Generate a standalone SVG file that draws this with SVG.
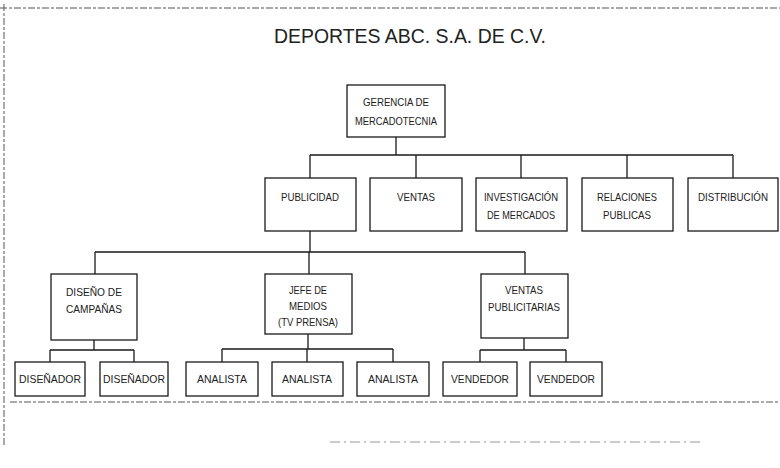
<svg xmlns="http://www.w3.org/2000/svg" width="780" height="468" viewBox="0 0 780 468">
<style>
.box{fill:#fff;stroke:#1a1a1a;stroke-width:1.3}
.t{font-family:"Liberation Sans",Arial,sans-serif;font-size:11.5px;fill:#222;text-anchor:middle}
.c{fill:none;stroke:#1a1a1a;stroke-width:1.3}
.frame{fill:none;stroke:#555;stroke-width:1;stroke-dasharray:7 2 3 2}
</style>
<rect width="780" height="468" fill="#fff"/>
<g id="frame">
<line class="frame" x1="0" y1="8" x2="780" y2="8"/>
<line class="frame" x1="4" y1="4" x2="4" y2="445" stroke="#888"/>
<line class="frame" x1="10" y1="402" x2="780" y2="402"/>
<line x1="330" y1="442" x2="700" y2="442" stroke="#999" stroke-width="1" stroke-dasharray="10 4 2 4"/>
</g>
<text id="title" x="410" y="43" font-family="'Liberation Sans',Arial,sans-serif" font-size="21" fill="#222" text-anchor="middle" textLength="272" lengthAdjust="spacingAndGlyphs">DEPORTES ABC. S.A. DE C.V.</text>
<g id="connectors">
<path class="c" d="M396 137V155M310 155H733M310 155V178M416 155V178M521 155V178M627 155V178M733 155V178"/>
<path class="c" d="M310 231V252M95 252H525M95 252V274M309 252V274M525 252V274"/>
<path class="c" d="M94 340V350M50 350H134M50 350V362M134 350V362"/>
<path class="c" d="M308 334V349M222 349H393M222 349V362M307 349V362M393 349V362"/>
<path class="c" d="M524 338V350M480 350H566M480 350V362M566 350V362"/>
</g>
<g id="gerencia"><rect class="box" x="347" y="85" width="98" height="52"/><text class="t" x="396" y="106" textLength="66" lengthAdjust="spacingAndGlyphs">GERENCIA DE</text><text class="t" x="396" y="125" textLength="82" lengthAdjust="spacingAndGlyphs">MERCADOTECNIA</text></g>
<g id="publicidad"><rect class="box" x="265" y="178" width="91" height="53"/><text class="t" x="310" y="201" textLength="58" lengthAdjust="spacingAndGlyphs">PUBLICIDAD</text></g>
<g id="ventas"><rect class="box" x="370" y="178" width="92" height="53"/><text class="t" x="416" y="201" textLength="38" lengthAdjust="spacingAndGlyphs">VENTAS</text></g>
<g id="investigacion"><rect class="box" x="476" y="178" width="91" height="53"/><text class="t" x="521" y="201" textLength="74" lengthAdjust="spacingAndGlyphs">INVESTIGACIÓN</text><text class="t" x="521" y="219" textLength="68" lengthAdjust="spacingAndGlyphs">DE MERCADOS</text></g>
<g id="relaciones"><rect class="box" x="582" y="178" width="91" height="53"/><text class="t" x="627" y="201" textLength="60" lengthAdjust="spacingAndGlyphs">RELACIONES</text><text class="t" x="627" y="219" textLength="48" lengthAdjust="spacingAndGlyphs">PUBLICAS</text></g>
<g id="distribucion"><rect class="box" x="688" y="178" width="90" height="53"/><text class="t" x="733" y="201" textLength="70" lengthAdjust="spacingAndGlyphs">DISTRIBUCIÓN</text></g>
<g id="diseno"><rect class="box" x="51" y="274" width="86" height="66"/><text class="t" x="94" y="296" textLength="56" lengthAdjust="spacingAndGlyphs">DISEÑO DE</text><text class="t" x="94" y="313" textLength="56" lengthAdjust="spacingAndGlyphs">CAMPAÑAS</text></g>
<g id="jefe"><rect class="box" x="265" y="274" width="87" height="60"/><text class="t" x="308" y="294" textLength="38" lengthAdjust="spacingAndGlyphs">JEFE DE</text><text class="t" x="308" y="310" textLength="38" lengthAdjust="spacingAndGlyphs">MEDIOS</text><text class="t" x="308" y="326" textLength="60" lengthAdjust="spacingAndGlyphs">(TV PRENSA)</text></g>
<g id="ventaspub"><rect class="box" x="481" y="274" width="87" height="64"/><text class="t" x="524" y="294" textLength="38" lengthAdjust="spacingAndGlyphs">VENTAS</text><text class="t" x="524" y="311" textLength="72" lengthAdjust="spacingAndGlyphs">PUBLICITARIAS</text></g>
<g id="disenador1"><rect class="box" x="15" y="362" width="70" height="34"/><text class="t" x="50" y="383" textLength="62" lengthAdjust="spacingAndGlyphs">DISEÑADOR</text></g>
<g id="disenador2"><rect class="box" x="100" y="362" width="68" height="34"/><text class="t" x="134" y="383" textLength="62" lengthAdjust="spacingAndGlyphs">DISEÑADOR</text></g>
<g id="analista1"><rect class="box" x="186" y="362" width="72" height="34"/><text class="t" x="222" y="383" textLength="50" lengthAdjust="spacingAndGlyphs">ANALISTA</text></g>
<g id="analista2"><rect class="box" x="272" y="362" width="71" height="34"/><text class="t" x="307" y="383" textLength="50" lengthAdjust="spacingAndGlyphs">ANALISTA</text></g>
<g id="analista3"><rect class="box" x="357" y="362" width="72" height="34"/><text class="t" x="393" y="383" textLength="50" lengthAdjust="spacingAndGlyphs">ANALISTA</text></g>
<g id="vendedor1"><rect class="box" x="443" y="362" width="74" height="34"/><text class="t" x="480" y="383" textLength="58" lengthAdjust="spacingAndGlyphs">VENDEDOR</text></g>
<g id="vendedor2"><rect class="box" x="530" y="362" width="72" height="34"/><text class="t" x="566" y="383" textLength="58" lengthAdjust="spacingAndGlyphs">VENDEDOR</text></g>
</svg>
